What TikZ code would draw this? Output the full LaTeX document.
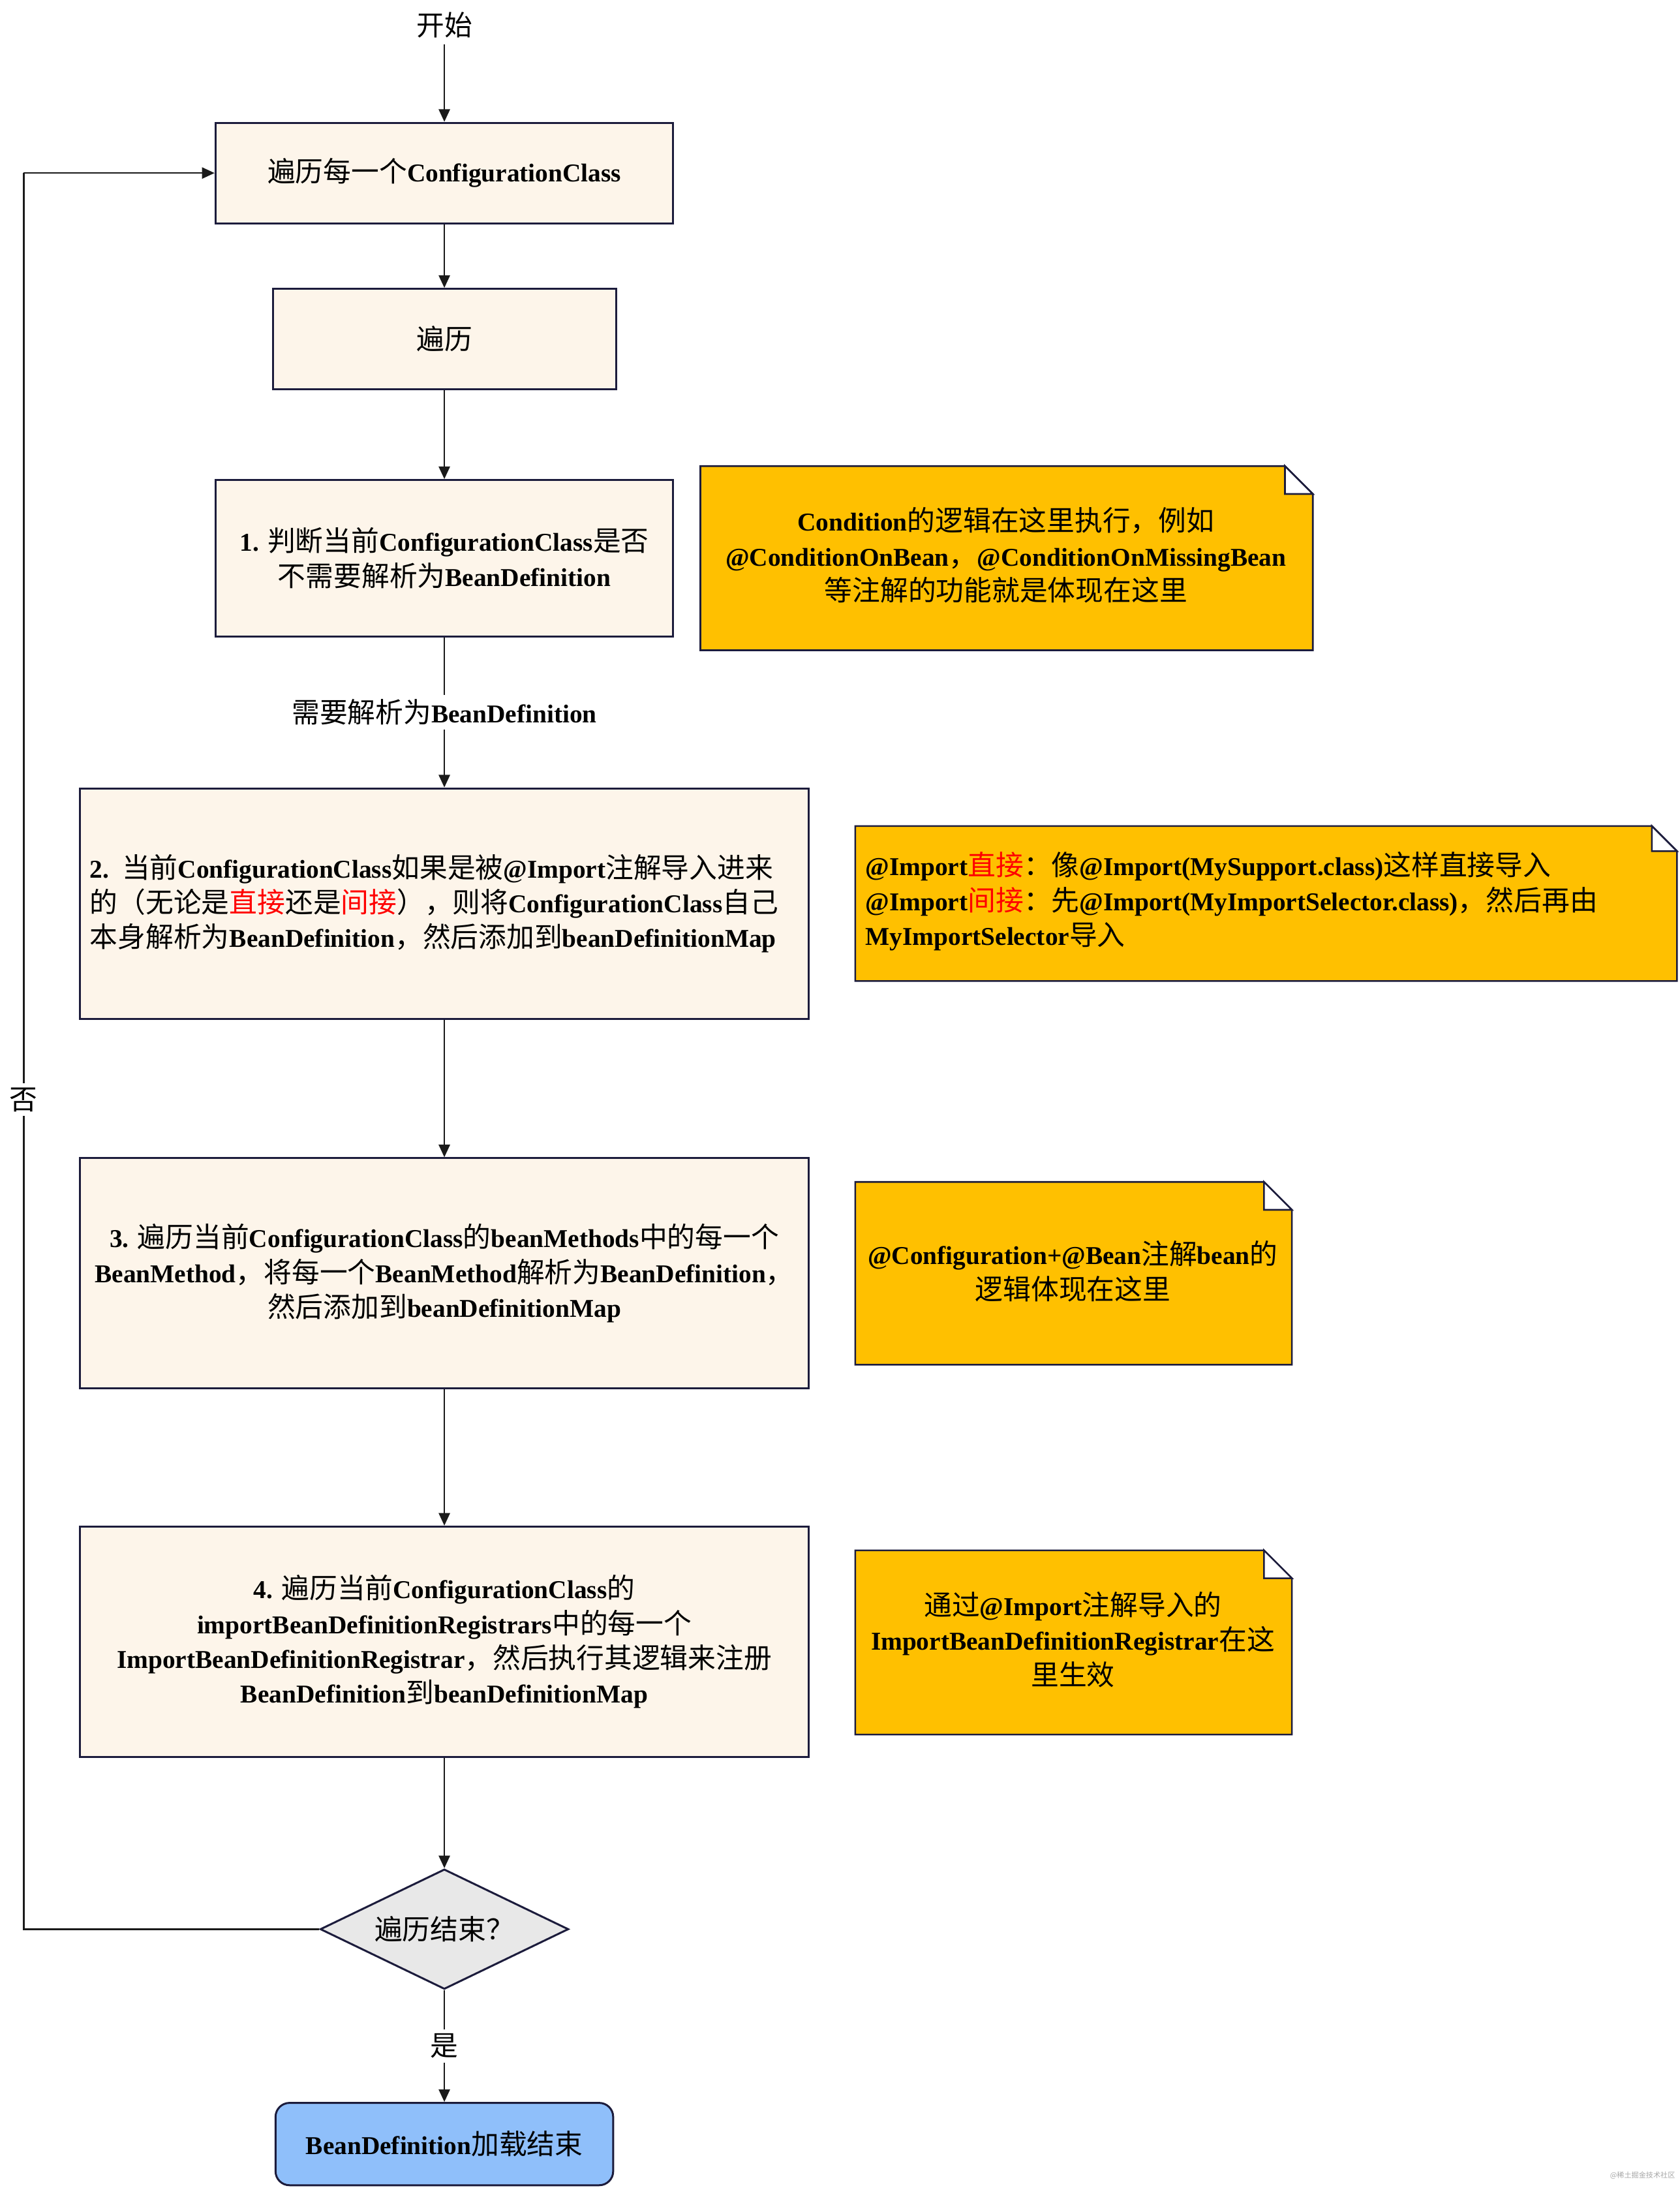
\documentclass[tikz,border=0pt]{standalone}
\usepackage{fontspec}
\setmainfont{Liberation Serif}[Scale=0.92]
\newfontfamily\cjkfam{Noto Sans CJK SC}
\newcommand\zh[1]{{\cjkfam\mdseries #1}}
\usetikzlibrary{shapes.geometric,arrows.meta}
\definecolor{boxfill}{HTML}{FDF5EA}
\definecolor{boxline}{HTML}{1C1C3C}
\definecolor{notefill}{HTML}{FFC000}
\definecolor{diafill}{HTML}{E8E8E8}
\definecolor{endfill}{HTML}{8FBFFA}
\definecolor{linecol}{HTML}{1A1A1A}
\tikzset{
  base/.style={font=\fontsize{10}{12.5}\selectfont\bfseries, align=center, text=black},
  proc/.style={base, draw=boxline, fill=boxfill, line width=0.7pt, inner sep=0pt},
  arr/.style={draw=linecol, line width=0.6pt, -{Triangle[length=4.5pt,width=4pt]}},
  plain/.style={draw=linecol, line width=0.6pt},
  lab/.style={base, fill=white, inner sep=1.5pt},
  notebg/.style={fill=notefill, draw=boxline, line width=0.6pt, line join=miter},
  fold/.style={fill=white, draw=boxline, line width=0.6pt}
}
\newcommand\notebox[5]{%
  \path[notebg] (#1,#2) -- ({#3-#5},#2) -- (#3,{#2+#5}) -- (#3,#4) -- (#1,#4) -- cycle;
  \path[fold] ({#3-#5},#2) -- ({#3-#5},{#2+#5}) -- (#3,{#2+#5}) -- cycle;
}
\begin{document}
\begin{tikzpicture}[x=0.5pt,y=-0.5pt]
\useasboundingbox (0,0) rectangle (1204,1568);

% main flow
\node[base, inner sep=2pt] (start) at (318.5,18) {\zh{开始}};
\node[proc, minimum width=164pt, minimum height=36pt] (box1) at (318.5,124)
  {\zh{遍历每一个}ConfigurationClass};
\node[proc, minimum width=123pt, minimum height=36pt] (box2) at (318.5,243)
  {\zh{遍历}};
\node[proc, minimum width=164pt, minimum height=56pt] (box3) at (318.5,400)
  {1. \zh{判断当前}ConfigurationClass\zh{是否}\\\zh{不需要解析为}BeanDefinition};
\node[proc, minimum width=261pt, minimum height=82.5pt, text width=254pt, align=left, inner xsep=3.5pt] (box4) at (318.5,647.5)
  {2. \zh{当前}ConfigurationClass\zh{如果是被}@Import\zh{注解导入进来}\\
   \zh{的（无论是}\textcolor{red}{\zh{直接}}\zh{还是}\textcolor{red}{\zh{间接}}\zh{），则将}ConfigurationClass\zh{自己}\\
   \zh{本身解析为}BeanDefinition\zh{，然后添加到}beanDefinitionMap};
\node[proc, minimum width=261pt, minimum height=82.5pt] (box5) at (318.5,912.5)
  {3. \zh{遍历当前}ConfigurationClass\zh{的}beanMethods\zh{中的每一个}\\
   BeanMethod\zh{，将每一个}BeanMethod\zh{解析为}BeanDefinition\zh{，}\\
   \zh{然后添加到}beanDefinitionMap};
\node[proc, minimum width=261pt, minimum height=82.5pt] (box6) at (318.5,1176.5)
  {4. \zh{遍历当前}ConfigurationClass\zh{的}\\
   importBeanDefinitionRegistrars\zh{中的每一个}\\
   ImportBeanDefinitionRegistrar\zh{，然后执行其逻辑来注册}\\
   BeanDefinition\zh{到}beanDefinitionMap};
\node[base, diamond, shape aspect=2, inner sep=0pt, draw=boxline, fill=diafill, line width=0.7pt,
      minimum width=89pt, minimum height=43pt] (dia) at (318.5,1382.5) {\zh{遍历结束？}};
\node[base, draw=boxline, fill=endfill, line width=0.7pt, rounded corners=5pt,
      minimum width=121pt, minimum height=29.5pt, inner sep=0pt] (endb) at (318.5,1536.5)
  {BeanDefinition\zh{加载结束}};

% connectors
\draw[arr] (start) -- (box1);
\draw[arr] (box1) -- (box2);
\draw[arr] (box2) -- (box3);
\draw[arr] (box3) -- node[lab] (need) {\zh{需要解析为}BeanDefinition} (box4);
\draw[arr] (box4) -- (box5);
\draw[arr] (box5) -- (box6);
\draw[arr] (box6) -- (dia);
\draw[arr] (dia) -- node[lab] (yes) {\zh{是}} (endb);
\coordinate (lpb) at (17,1382.5);
\coordinate (lpt) at (17,124);
\draw[plain] (dia.west) -- (lpb) -- (lpt);
\draw[arr] (lpt) -- (box1.west);
\node[lab] (no) at (17,788) {\zh{否}};

% notes
\notebox{502}{334}{941}{466}{20}
\node[base] (n1) at (721,398)
  {Condition\zh{的逻辑在这里执行，例如}\\@ConditionOnBean\zh{，}@ConditionOnMissingBean\\\zh{等注解的功能就是体现在这里}};
\notebox{613}{592}{1202}{703}{18}
\node[base, align=left, anchor=west, inner sep=0pt] (n2) at (620,646)
  {@Import\textcolor{red}{\zh{直接}}\zh{：像}@Import(MySupport.class)\zh{这样直接导入}\\
   @Import\textcolor{red}{\zh{间接}}\zh{：先}@Import(MyImportSelector.class)\zh{，然后再由}\\
   MyImportSelector\zh{导入}};
\notebox{613}{847}{926}{978}{20}
\node[base] (n3) at (769,911)
  {@Configuration+@Bean\zh{注解}bean\zh{的}\\\zh{逻辑体现在这里}};
\notebox{613}{1111}{926}{1243}{20}
\node[base] (n4) at (769,1175)
  {\zh{通过}@Import\zh{注解导入的}\\ImportBeanDefinitionRegistrar\zh{在这}\\\zh{里生效}};

% watermark
\node[anchor=east, text=black!35, inner sep=0pt, font=\fontsize{2.6}{3}\selectfont] (wm) at (1201,1559) {\zh{@稀土掘金技术社区}};
\end{tikzpicture}
\end{document}
